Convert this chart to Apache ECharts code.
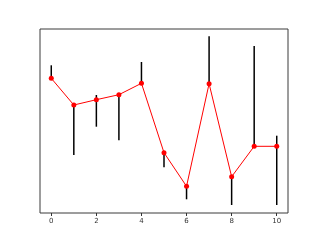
<!DOCTYPE html>
<html><head><meta charset="utf-8">
<script src="https://cdn.jsdelivr.net/npm/echarts@6/dist/echarts.min.js"></script>
<style>html,body{margin:0;padding:0;background:#fff}#c{width:320px;height:240px}</style>
</head><body><div id="c"></div>
<script>
var xs = [0, 1, 2, 3, 4, 5, 6, 7, 8, 9, 10];
var values = [134.7, 108, 113.3, 118.3, 129.7, 60.3, 26.7, 129.3, 36.3, 66.7, 66.7];
var errLow = [134.7, 58, 86.3, 72.7, 129.7, 45.7, 13.7, 129.3, 8, 66.7, 8];
var errHigh = [147.7, 108, 118, 118.3, 151, 60.3, 26.7, 176.7, 36.3, 167, 77.3];
var xTicks = [0, 2, 4, 6, 8, 10];

var chart = echarts.init(document.getElementById('c'), null, {renderer: 'canvas'});
var lineData = xs.map(function (x, i) { return [x, values[i]]; });
var errData = xs.map(function (x, i) { return [x, errLow[i], errHigh[i]]; });
chart.setOption({
  animation: false,
  grid: {left: 40, right: 32, top: 29, bottom: 27, show: true, borderColor: '#3a3a3a', borderWidth: 1, backgroundColor: 'transparent'},
  xAxis: {
    type: 'value', min: -0.5, max: 10.5,
    splitLine: {show: false},
    axisLine: {show: false},
    axisTick: {show: true, length: 3, inside: false, lineStyle: {color: '#333', width: 1}, customValues: xTicks},
    axisLabel: {show: true, customValues: xTicks, color: '#333', fontSize: 7, fontFamily: 'DejaVu Sans', margin: 5}
  },
  yAxis: {
    type: 'value', min: 0, max: 184,
    splitLine: {show: false}, axisLine: {show: false}, axisTick: {show: false}, axisLabel: {show: false}
  },
  series: [
    {
      type: 'custom',
      data: errData,
      z: 1,
      renderItem: function (params, api) {
        var p1 = api.coord([api.value(0), api.value(1)]);
        var p2 = api.coord([api.value(0), api.value(2)]);
        return {type: 'line', shape: {x1: p1[0], y1: p1[1], x2: p2[0], y2: p2[1]}, style: {stroke: '#000', lineWidth: 1.5}};
      }
    },
    {
      type: 'line',
      data: lineData,
      z: 2,
      symbol: 'circle', symbolSize: 5,
      lineStyle: {color: '#ff0000', width: 1},
      itemStyle: {color: '#ff0000'}
    }
  ]
});
</script>
</body></html>
